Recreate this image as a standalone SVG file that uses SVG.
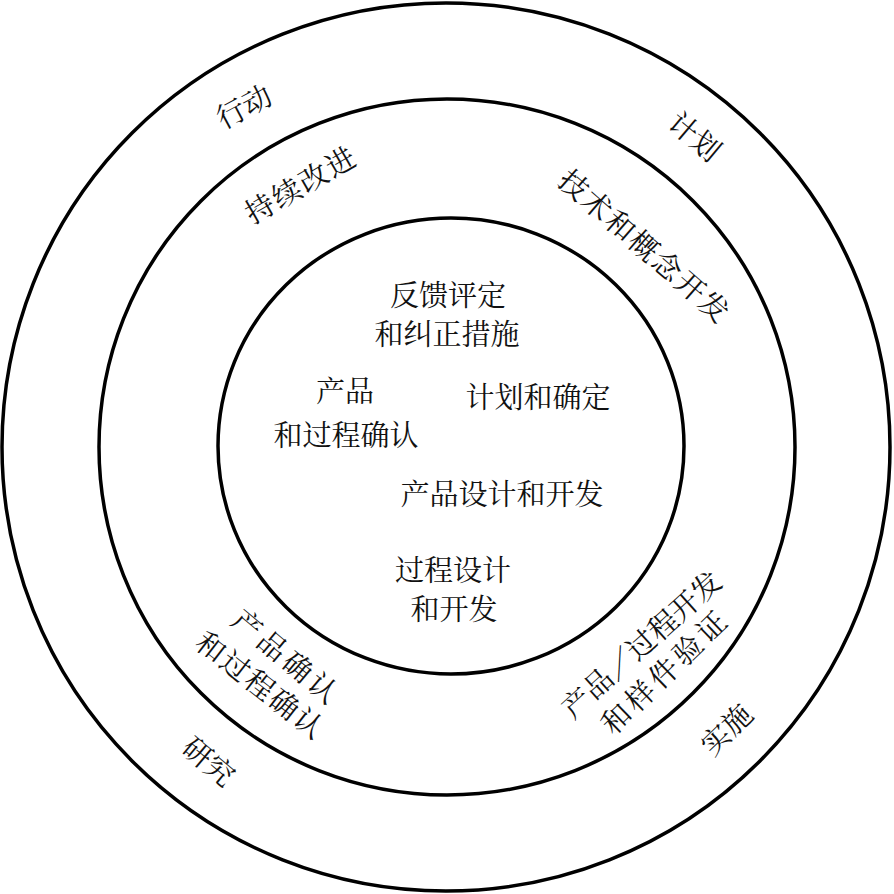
<svg xmlns="http://www.w3.org/2000/svg" width="894" height="894" viewBox="0 0 894 894">
<style>
.ring{fill:none;stroke:#000;stroke-width:3.5}
.t{font-family:"Noto Serif CJK SC","Noto Sans CJK SC","Liberation Serif",serif;font-size:29px;fill:#111;text-anchor:middle;dominant-baseline:central}
</style>
<rect width="894" height="894" fill="#fff"/>
<g id="rings">
<circle class="ring" cx="446" cy="447" r="444"/>
<circle class="ring" cx="447" cy="447" r="348"/>
<ellipse class="ring" cx="451" cy="446" rx="233" ry="228"/>
</g>
<g id="outer-labels">
<text class="t" transform="translate(243,105) rotate(-28)">行动</text>
<text class="t" transform="translate(696,135) rotate(40)">计划</text>
<text class="t" transform="translate(210,760) rotate(40)">研究</text>
<text class="t" transform="translate(725,728) rotate(-44)">实施</text>
</g>
<g id="middle-labels">
<text class="t" transform="translate(300,183) rotate(-30)" letter-spacing="2">持续改进</text>
<text class="t" transform="translate(646,245) rotate(41)" letter-spacing="2">技术和概念开发</text>
<text class="t" transform="translate(288,656) rotate(40)" letter-spacing="4">产品确认</text>
<text class="t" transform="translate(262,684) rotate(38)" letter-spacing="2">和过程确认</text>
<text class="t" transform="translate(640,643) rotate(-42)">产品／过程开发</text>
<text class="t" transform="translate(664,670) rotate(-44)" letter-spacing="4">和样件验证</text>
</g>
<g id="inner-labels">
<text class="t" x="448" y="293">反馈评定</text>
<text class="t" x="447" y="332">和纠正措施</text>
<text class="t" x="345" y="389">产品</text>
<text class="t" x="346" y="433">和过程确认</text>
<text class="t" x="538" y="395">计划和确定</text>
<text class="t" x="502" y="492">产品设计和开发</text>
<text class="t" x="453" y="568">过程设计</text>
<text class="t" x="454" y="607">和开发</text>
</g>
</svg>
